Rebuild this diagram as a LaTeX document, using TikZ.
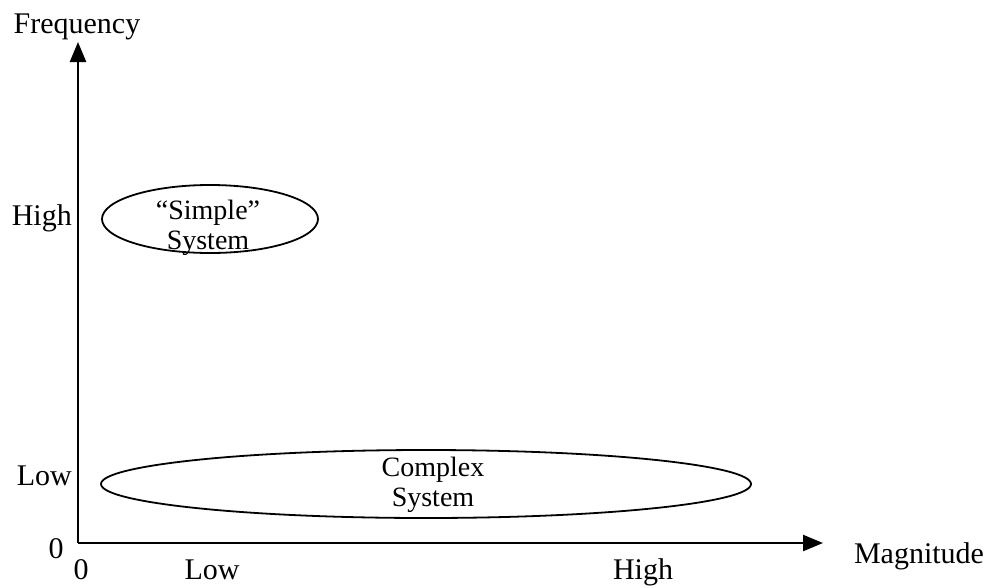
\documentclass[tikz,border=0pt]{standalone}
\usepackage{fontspec}
\setmainfont{Liberation Serif}
\usepackage{tikz}
\usetikzlibrary{arrows.meta,shapes.geometric}

\tikzset{
  axislabel/.style={inner sep=0pt, font=\fontsize{30}{36}\selectfont},
  region/.style={draw, line width=1.8pt, ellipse, inner sep=0pt},
  systext/.style={inner sep=0pt, align=center, font=\fontsize{28}{30}\selectfont}
}

\begin{document}
\begin{tikzpicture}[x=1pt,y=-1pt]
\useasboundingbox (0,0) rectangle (993,587);

% Axes
\coordinate (origin) at (78,543);
\coordinate (xend) at (823,543);
\coordinate (yend) at (78,42);
\draw[line width=2.4pt, -{Triangle[length=20pt,width=16pt]}] (origin) -- (xend);
\draw[line width=2.4pt, -{Triangle[length=20pt,width=16pt]}] (origin) -- (yend);

% Axis names
\node[axislabel, anchor=base] (freq) at (77,33) {Frequency};
\node[axislabel, anchor=base] (mag) at (919,563) {Magnitude};

% Y-axis ticks
\node[axislabel, anchor=base east] (yhigh) at (72,225) {High};
\node[axislabel, anchor=base east] (ylow) at (72,485) {Low};
\node[axislabel, anchor=base] (yzero) at (56,558) {0};

% X-axis ticks
\node[axislabel, anchor=base] (xzero) at (81,579) {0};
\node[axislabel, anchor=base] (xlow) at (212,579) {Low};
\node[axislabel, anchor=base] (xhigh) at (643,579) {High};

% Systems
\node[region, minimum width=216pt, minimum height=68pt] (simple) at (210,219) {};
\node[systext] (simpletext) at (208,228) {``Simple''\\System};
\node[region, minimum width=650pt, minimum height=68pt] (complex) at (426,484) {};
\node[systext] (complextext) at (433,485) {Complex\\System};
\end{tikzpicture}
\end{document}
